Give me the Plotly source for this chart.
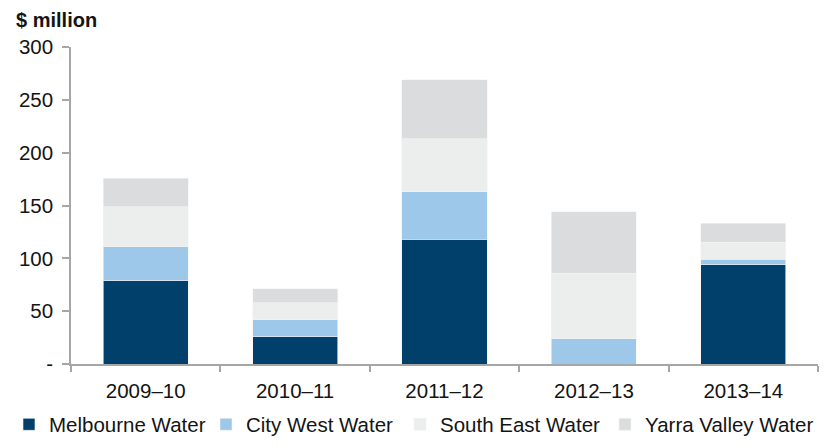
import plotly.graph_objects as go

categories = ["2009–10", "2010–11", "2011–12", "2012–13", "2013–14"]
melbourne_water = [79, 26, 118, 0, 94]
city_west_water = [32, 16, 45, 24, 5]
south_east_water = [38, 16, 50, 62, 16]
yarra_valley_water = [27, 13, 56, 58, 18]
series_names = ["Melbourne Water", "City West Water", "South East Water", "Yarra Valley Water"]
colors = ["#00406B", "#9DC8EA", "#ECEDED", "#DBDCDE"]
y_tickvals = [0, 50, 100, 150, 200, 250, 300]
y_ticktext = ["-", "50", "100", "150", "200", "250", "300"]

series = [melbourne_water, city_west_water, south_east_water, yarra_valley_water]

# figure is drawn inside the page's default 8px body margin
W, H = 831, 440
legend_ids = ["legend", "legend2", "legend3", "legend4"]
legend_left_px = [1, 198, 392, 597]

fig = go.Figure()
for name, vals, col, lid in zip(series_names, series, colors, legend_ids):
    fig.add_trace(go.Bar(
        x=categories, y=vals, name=name, legend=lid,
        marker=dict(color=col, line=dict(color="#F4F4F4", width=0.6)),
    ))

font_family = "Liberation Sans, Arial, sans-serif"
axis_gray = "#A6A6A6"
text_color = "#141414"

legend_common = dict(
    orientation="h", xref="container", yref="container",
    xanchor="left", y=1 - 416.5 / H, yanchor="middle",
    font=dict(size=20.5, color=text_color, family=font_family),
    bgcolor="rgba(0,0,0,0)", itemwidth=30,
)
legend_layout = {}
for lid, px in zip(legend_ids, legend_left_px):
    legend_layout[lid] = dict(legend_common, x=px / W)

fig.update_layout(
    barmode="stack",
    bargap=0.43,
    width=W, height=H,
    margin=dict(l=63, r=21, t=39, b=84, autoexpand=False),
    paper_bgcolor="white", plot_bgcolor="white",
    font=dict(family=font_family, size=20, color=text_color),
    showlegend=True,
    xaxis=dict(
        type="category", automargin=False,
        showline=True, linecolor=axis_gray, linewidth=1.6,
        ticks="outside", tickson="boundaries", ticklen=6, tickcolor=axis_gray, tickwidth=1.6,
        showgrid=False, zeroline=False,
        tickfont=dict(size=20.5),
        ticklabelstandoff=8,
    ),
    yaxis=dict(
        range=[0, 300], automargin=False,
        tickvals=y_tickvals, ticktext=y_ticktext,
        showline=True, linecolor=axis_gray, linewidth=1.6,
        ticks="outside", ticklen=7, tickcolor=axis_gray, tickwidth=1.6,
        showgrid=False, zeroline=False,
        tickfont=dict(size=20.5),
        ticklabelstandoff=5,
    ),
    annotations=[dict(
        text="<b>$ million</b>", xref="paper", yref="paper",
        x=0, y=1 + 27 / 317, xanchor="left", yanchor="middle",
        xshift=-57, showarrow=False, font=dict(size=20, color=text_color),
    )],
    **legend_layout,
)

fig.write_html("out.html")
